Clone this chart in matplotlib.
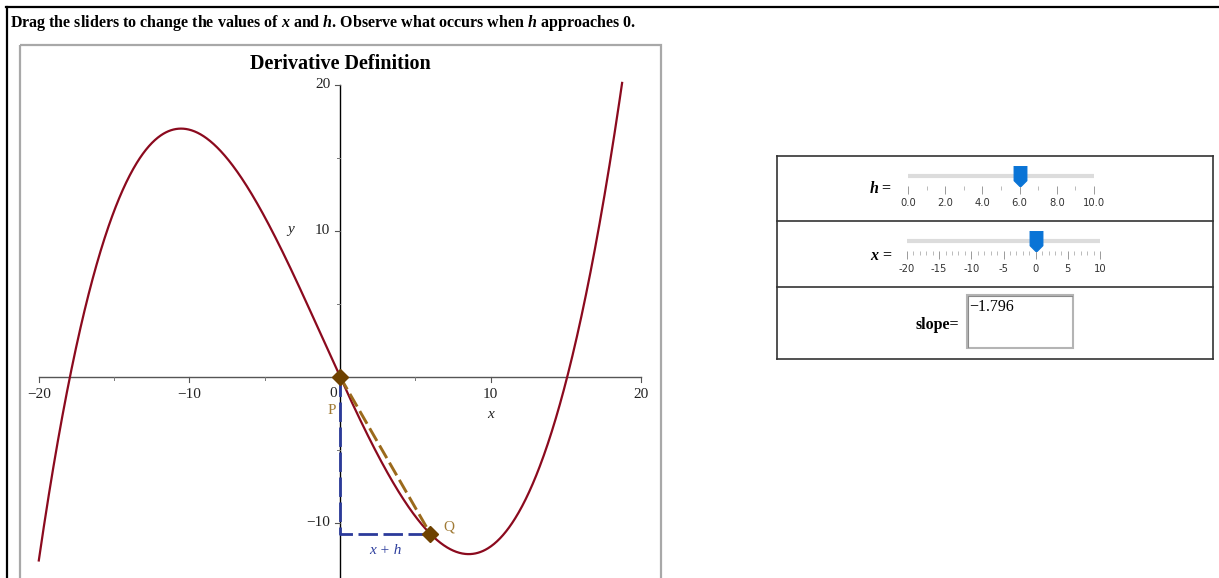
import numpy as np
import matplotlib
matplotlib.use("Agg")
import matplotlib.pyplot as plt
from matplotlib.path import Path
from matplotlib.patches import Rectangle

plt.rcParams['font.family'] = ['Liberation Serif', 'DejaVu Serif']
plt.rcParams['mathtext.fontset'] = 'custom'
plt.rcParams['mathtext.it'] = 'Liberation Serif:italic:bold'
plt.rcParams['mathtext.rm'] = 'Liberation Serif:bold'

# f(x) = e x^4 + a x^3 + b x^2 + c x
coef = [-0.000016, 0.0083066, 0.028049, -2.25972, 0.0]
x_val = 0.0
h_val = 6.0
x_domain = [-20, 20]
y_view_top = 20.25

x_major = [-20, -10, 10, 20]
x_minor = [-15, -5, 5, 15]
y_major = [-10, 10, 20]
y_minor = [-5, 5, 15]

h_range = [0, 10]
h_labels = [0, 2, 4, 6, 8, 10]
xs_range = [-20, 10]
xs_labels = [-20, -15, -10, -5, 0, 5, 10]

W, H = 1219, 578
fig = plt.figure(figsize=(W / 100, H / 100), dpi=100)


def box(l, t, r, b):
    return [l / W, 1 - b / H, (r - l) / W, (b - t) / H]


# page layer in pixel units
ui = fig.add_axes([0, 0, 1, 1])
ui.set_xlim(0, W)
ui.set_ylim(H, 0)
ui.axis('off')

ui.plot([6, W], [7, 7], color='black', lw=1.6)
ui.plot([7, 7], [7, H], color='black', lw=1.6)
ui.add_patch(Rectangle((20, 45), 641, 600, fill=False, ec='#a8a8a8', lw=1.6))

ui.text(10, 23, r"Drag the sliders to change the values of $x$ and $h$. Observe what occurs when $h$ approaches 0.",
        fontsize=11.5, fontweight='bold', va='center', ha='left')

# ---- main plot ----
x0px, y0px = 340.0, 376.7
sx, sy = 15.06, 14.585
L, T, R, B = 22, 47, 659, 578
ax = fig.add_axes(box(L, T, R, B))
ax.set_xlim((L - x0px) / sx, (R - x0px) / sx)
ax.set_ylim((y0px - B) / sy, (y0px - T) / sy)
ax.axis('off')
ax.patch.set_alpha(0)

f = np.poly1d(coef)
xx = np.linspace(x_domain[0], x_domain[1], 1200)
yy = f(xx)
keep = yy <= y_view_top

ylo = ax.get_ylim()[0]
ax.plot(x_domain, [0, 0], color='#555555', lw=1.0, zorder=1)
ax.plot([0, 0], [ylo, 20], color='black', lw=1.0, zorder=1)
tx, ty = 5 / sy, 5 / sx
for v in x_major:
    ax.plot([v, v], [0, -tx], color='#555555', lw=0.8)
    ax.text(v, -1.25, f"{v}".replace('-', '\u2212'), ha='center', va='center', fontsize=11, color='#222222')
for v in x_minor:
    ax.plot([v, v], [0, -tx * 0.6], color='#777777', lw=0.7)
for v in y_major:
    ax.plot([0, -ty], [v, v], color='#555555', lw=0.8)
    ax.text(-0.65, v, f"{v}".replace('-', '\u2212'), ha='right', va='center', fontsize=11, color='#222222')
for v in y_minor:
    ax.plot([0, -ty * 0.6], [v, v], color='#777777', lw=0.7)
ax.text(-0.45, -1.15, "0", ha='center', va='center', fontsize=11, color='#222222')
ax.text(10, -2.6, "x", ha='center', va='center', fontsize=11, style='italic', color='#222222')
ax.text(-3.25, 10.1, "y", ha='center', va='center', fontsize=11, style='italic', color='#222222')

ax.plot(xx[keep], yy[keep], color='#8b0a1e', lw=1.6, zorder=4)

# P = (x, f(x)), Q = (x+h, f(x+h)) with the secant and the run/rise guides
px, py = x_val, f(x_val)
qx, qy = x_val + h_val, f(x_val + h_val)
ax.plot([px, px, qx], [py, qy, qy], color='#2b3a9a', lw=2.0, dashes=[7, 2], zorder=3)
ax.plot([px, qx], [py, qy], color='#9b6a1c', lw=2.1, dashes=[5, 1.8], zorder=5)
ax.plot([px, qx], [py, qy], ls='none', marker='D', ms=8.5, color='#6e4200', zorder=6)
ax.annotate("P", (px, py), xytext=(-6, -24.5), textcoords='offset points', ha='center', va='center',
            fontsize=11, color='#a07a35')
ax.annotate("Q", (qx, qy), xytext=(13, 5), textcoords='offset points', ha='center', va='center',
            fontsize=11, color='#a07a35')
ax.annotate("x + h", ((px + qx) / 2, qy), xytext=(0, -12), textcoords='offset points', ha='center',
            va='center', fontsize=11, style='italic', color='#2e3f9e')

ax.text(0, 21.44, "Derivative Definition", ha='center', va='center', fontsize=14.5, fontweight='bold')

# ---- control panel ----
for yl in [156, 221, 287, 359]:
    ui.plot([777, 1213], [yl, yl], color='#333333', lw=1.2)
for xl in [777, 1213]:
    ui.plot([xl, xl], [156, 359], color='#333333', lw=1.2)

ui.text(881, 189, r"$h$ =", fontsize=11.5, fontweight='bold', ha='center', va='center')
ui.text(881, 256, r"$x$ =", fontsize=11.5, fontweight='bold', ha='center', va='center')
ui.text(937, 325, "slope=", fontsize=11.5, fontweight='bold', ha='center', va='center')

thumb = Path([(-0.6, 1), (0.6, 1), (0.6, -0.4), (0, -1), (-0.6, -0.4), (-0.6, 1)],
             [Path.MOVETO, Path.LINETO, Path.LINETO, Path.LINETO, Path.LINETO, Path.CLOSEPOLY])


def slider(top, left, right, rng, val, labels, fmt, step):
    sa = fig.add_axes(box(left, top, right, top + 20))
    sa.set_xlim(rng)
    sa.set_ylim(0, 1)
    sa.patch.set_alpha(0)
    for s in sa.spines.values():
        s.set_visible(False)
    sa.plot(rng, [0.5, 0.5], color='#dcdcdc', lw=3, solid_capstyle='butt')
    sa.plot([val], [0.5], marker=thumb, ms=15, color='#0a74d6', ls='none')
    sa.set_yticks([])
    sa.set_xticks(labels)
    sa.set_xticklabels([fmt.format(v) for v in labels], fontfamily='DejaVu Sans')
    sa.set_xticks(np.arange(rng[0], rng[1] + step / 2, step), minor=True)
    sa.tick_params(axis='x', which='major', length=5.5, width=0.7, color='#9a9a9a', pad=3.5,
                   labelsize=7.2, labelcolor='#333333')
    sa.tick_params(axis='x', which='minor', length=3, width=0.6, color='#b0b0b0')
    return sa


slider(166, 908, 1094, h_range, h_val, h_labels, "{:.1f}", 1)
slider(231, 907, 1100, xs_range, x_val, xs_labels, "{:d}", 1)

slope = (qy - py) / h_val
ui.add_patch(Rectangle((967, 295), 106, 53, fc='white', ec='#b4b4b4', lw=1.5))
ui.plot([968, 968, 1072], [347, 296, 296], color='#8a8a8a', lw=0.8)
ui.text(969, 307, f"{slope:.3f}".replace('-', '\u2212'), fontsize=11.5, ha='left', va='center')

fig.savefig("out.png", dpi=100)
